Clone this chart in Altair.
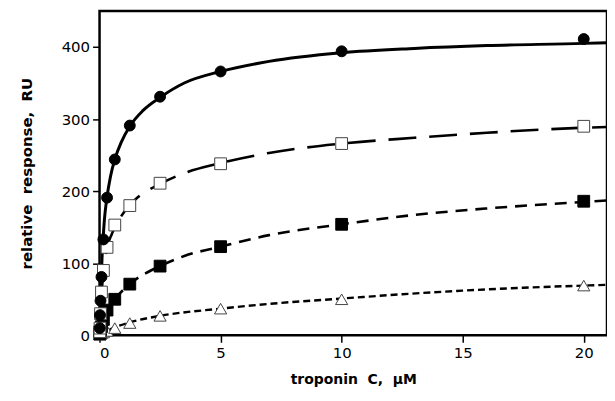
import altair as alt
import pandas as pd

# measured data (troponin C concentration, uM)
conc = [0.01, 0.02, 0.04, 0.08, 0.16, 0.31, 0.63, 1.25, 2.5, 5, 10, 20]
circle_y = [10, 28, 48, 81, 133, 191, 244, 291, 331, 366, 394, 411]
open_sq_y = [5, 10, 30, 60, 90, 122, 153, 180, 211, 238, 266, 290]
filled_sq_y = [2, 5, 8, 12, 22, 35, 50, 71, 96, 123, 154, 186]
tri_y = [1, 1, 2, 3, 4, 6, 10, 17, 27, 37, 50, 69]

# fitted curves
solid_x = [0, 0.05, 0.1, 0.2, 0.3, 0.45, 0.63, 0.9, 1.25, 1.8, 2.5, 3.5, 5, 7, 10, 13, 16, 20, 20.96]
solid_y = [0, 60, 105, 160, 190, 220, 244, 268, 290, 312, 330, 350, 366, 380, 392, 398, 402, 405, 406]
long_x = [0, 0.05, 0.1, 0.2, 0.34, 0.5, 0.75, 1.1, 1.6, 2.5, 3.5, 5, 7, 10, 13, 16, 20, 20.96]
long_y = [0, 35, 65, 100, 125, 140, 157, 175, 192, 210, 225, 239, 253, 266, 274, 281, 288, 289]
med_x = [0, 0.1, 0.31, 0.63, 1.25, 2.5, 3.5, 5, 7, 10, 13, 16, 20, 20.96]
med_y = [0, 15, 34, 50, 71, 96, 110, 123, 139, 154, 167, 176, 185, 187]
short_x = [0, 0.31, 0.63, 1.25, 2.5, 5, 7.5, 10, 12.5, 15, 17.5, 20, 20.96]
short_y = [0, 6, 11, 18, 27, 37, 45, 51, 57, 62, 66, 69, 70]

x_ticks = [0, 5, 10, 15, 20]
y_ticks = [0, 100, 200, 300, 400]

XDOM = [0, 20.96]
YDOM = [0, 450]

NB = "\u00a0"
X_TITLE = f"troponin{NB}{NB}C,{NB}{NB}μM"
Y_TITLE = f"relative{NB}{NB}response,{NB}{NB}RU"

xs = alt.Scale(domain=XDOM, nice=False, zero=False)
ys = alt.Scale(domain=YDOM, nice=False, zero=False)

FONT = "DejaVu Sans"

xenc = alt.X("x:Q", scale=xs,
             axis=alt.Axis(values=x_ticks, title=X_TITLE, grid=False,
                           domain=False, tickColor="black", tickSize=7, tickWidth=1.5,
                           labelFont=FONT, labelFontSize=15, labelColor="black",
                           labelPadding=3, titleFont=FONT, titleFontSize=14,
                           titleFontWeight="bold", titleColor="black", titlePadding=12))
yenc = alt.Y("y:Q", scale=ys,
             axis=alt.Axis(values=y_ticks, title=Y_TITLE, grid=False,
                           domain=False, tickColor="black", tickSize=7, tickWidth=1.5,
                           labelFont=FONT, labelFontSize=15, labelColor="black",
                           labelPadding=3, titleFont=FONT, titleFontSize=15,
                           titleFontWeight="bold", titleColor="black", titlePadding=27))


def line(xv, yv, dash, width):
    df = pd.DataFrame({"x": xv, "y": yv})
    kw = dict(color="black", strokeWidth=width, interpolate="monotone", clip=True)
    if dash:
        kw["strokeDash"] = dash
    return alt.Chart(df).mark_line(**kw).encode(x=xenc, y=yenc)


def pts(yv, shape, filled, size):
    df = pd.DataFrame({"x": conc, "y": yv})
    return alt.Chart(df).mark_point(
        shape=shape, filled=True, size=size,
        fill="black" if filled else "white", stroke="black" if filled else "#444",
        strokeWidth=1, opacity=1, fillOpacity=1
    ).encode(x=xenc, y=yenc)


chart = alt.layer(
    line(solid_x, solid_y, None, 3),
    line(long_x, long_y, [28, 13], 2.6),
    line(med_x, med_y, [12, 8], 2.6),
    line(short_x, short_y, [7, 4], 2.4),
    pts(tri_y, "triangle-up", False, 150),
    pts(filled_sq_y, "square", True, 140),
    pts(open_sq_y, "square", False, 140),
    pts(circle_y, "circle", True, 120),
).properties(
    width=510, height=326,
    autosize=alt.AutoSizeParams(type="none"),
    padding={"left": 92, "top": 2, "right": 0, "bottom": 55},
).configure(
    background="white",
    view=alt.ViewConfig(stroke="black", strokeWidth=2.5),
)

chart.save("out.html", embed_options={"renderer": "svg", "actions": False})
